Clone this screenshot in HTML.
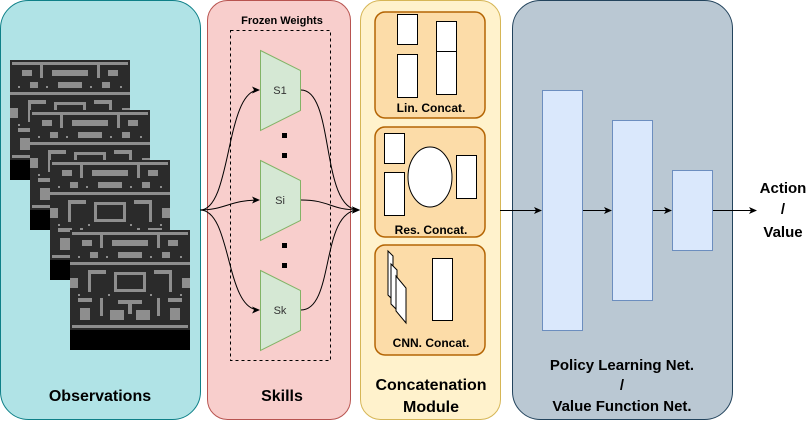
<!DOCTYPE html>
<html><head><style>
body{margin:0;background:#fff;width:812px;height:433px;overflow:hidden}
text{font-family:"Liberation Sans",Arial,sans-serif}
</style></head><body>
<svg width="812" height="433" viewBox="0 0 812 433" xmlns="http://www.w3.org/2000/svg">
<defs>
<marker id="a" markerWidth="8" markerHeight="8" refX="7" refY="4" orient="auto" markerUnits="userSpaceOnUse"><path d="M0,0.5 L8,4 L0,7.5 L2,4z" fill="#000"/></marker>
<g id="fr">
<rect width="120" height="120" fill="#000"/>
<rect width="120" height="100" fill="#2b2b2b"/>
<g fill="#8e8e8e">
<rect x="2" y="2" width="116" height="3"/><rect x="2" y="95" width="116" height="3"/>
<rect x="12" y="10" width="10" height="6"/><rect x="42" y="10" width="36" height="6"/><rect x="98" y="10" width="10" height="6"/>
<rect x="30" y="2" width="3" height="16"/><rect x="87" y="2" width="3" height="16"/>
<rect x="20" y="22" width="8" height="6"/><rect x="48" y="22" width="24" height="6"/><rect x="92" y="22" width="8" height="6"/>
<rect x="0" y="32" width="120" height="3"/>
<rect x="18" y="40" width="3" height="22"/><rect x="18" y="40" width="18" height="4"/><rect x="99" y="40" width="3" height="22"/><rect x="84" y="40" width="18" height="4"/>
<rect x="44" y="42" width="32" height="3"/><rect x="44" y="42" width="3" height="20"/><rect x="73" y="42" width="3" height="20"/><rect x="44" y="59" width="32" height="3"/>
<rect x="0" y="48" width="8" height="10"/><rect x="112" y="48" width="8" height="10"/>
<rect x="8" y="68" width="14" height="4"/><rect x="98" y="68" width="14" height="4"/>
<rect x="30" y="68" width="3" height="18"/><rect x="87" y="68" width="3" height="18"/>
<rect x="48" y="70" width="24" height="4"/><rect x="58" y="70" width="4" height="14"/>
<rect x="10" y="78" width="10" height="12"/><rect x="40" y="80" width="14" height="10"/><rect x="66" y="80" width="14" height="10"/><rect x="100" y="78" width="10" height="12"/>
</g>
<g fill="#8e8e8e">
<rect x="8" y="26" width="2" height="2"/><rect x="36" y="26" width="2" height="2"/><rect x="80" y="26" width="2" height="2"/><rect x="110" y="26" width="2" height="2"/>
<rect x="8" y="64" width="2" height="2"/><rect x="38" y="64" width="2" height="2"/><rect x="80" y="64" width="2" height="2"/><rect x="110" y="64" width="2" height="2"/>
</g>
</g>
</defs>
<rect x="0.5" y="0.5" width="200" height="419" rx="28" fill="#b0e3e6" stroke="#0e8088"/>
<rect x="207.5" y="0.5" width="143" height="419" rx="20" fill="#f8cecc" stroke="#b85450"/>
<rect x="360.5" y="0.5" width="140" height="419" rx="20" fill="#fff2cc" stroke="#d6b656"/>
<rect x="512.5" y="0.5" width="220" height="419" rx="28" fill="#bac8d3" stroke="#23445d"/>
<use href="#fr" x="10" y="60"/><use href="#fr" x="30" y="110"/><use href="#fr" x="50" y="160"/><use href="#fr" x="70" y="230"/>
<text x="100" y="401" font-size="16" font-weight="bold" text-anchor="middle">Observations</text>
<text x="282" y="24" font-size="11" font-weight="bold" text-anchor="middle">Frozen Weights</text>
<rect x="230.5" y="30.5" width="100" height="330" fill="none" stroke="#000" stroke-dasharray="3,3"/>
<g fill="#d5e8d4" stroke="#82b366">
<path d="M260.5,50.5 L300.5,70.5 L300.5,110.5 L260.5,130.5z"/>
<path d="M260.5,160.5 L300.5,180.5 L300.5,220.5 L260.5,240.5z"/>
<path d="M260.5,270.5 L300.5,290.5 L300.5,330.5 L260.5,350.5z"/>
</g>
<g font-size="11" fill="#333" text-anchor="middle"><text x="280" y="94">S1</text><text x="280" y="204">Si</text><text x="280" y="314">Sk</text></g>
<g fill="#000"><rect x="282" y="133" width="5" height="5"/><rect x="282" y="153" width="5" height="5"/><rect x="282" y="243" width="5" height="5"/><rect x="282" y="263" width="5" height="5"/></g>
<g fill="none" stroke="#000" stroke-width="1">
<path d="M200,210 C232,210 225,90 259,90" marker-end="url(#a)"/>
<path d="M200,210 C225,210 230,200 259,200" marker-end="url(#a)"/>
<path d="M200,210 C232,210 225,310 259,310" marker-end="url(#a)"/>
<path d="M301,90 C335,90 320,210 359,210" marker-end="url(#a)"/>
<path d="M301,200 C330,200 330,210 359,210" marker-end="url(#a)"/>
<path d="M301,310 C335,310 320,210 359,210" marker-end="url(#a)"/>
</g>
<text x="282" y="401" font-size="16" font-weight="bold" text-anchor="middle">Skills</text>
<g fill="#fcdca8" stroke="#b46504" stroke-width="1.5">
<rect x="375" y="12" width="110" height="106" rx="10"/>
<rect x="375" y="127" width="110" height="110" rx="10"/>
<rect x="375" y="245" width="110" height="110" rx="10"/>
</g>
<g fill="#fff" stroke="#000">
<rect x="397.5" y="14.5" width="20" height="30"/><rect x="397.5" y="54.5" width="20" height="43"/>
<rect x="436.5" y="21.5" width="20" height="30"/><rect x="436.5" y="51.5" width="20" height="43"/>
<rect x="384.5" y="133.5" width="20" height="30"/><rect x="384.5" y="172.5" width="20" height="43"/>
<ellipse cx="430" cy="177" rx="22" ry="30"/><rect x="456.5" y="155.5" width="20" height="43"/>
<rect x="432.5" y="258.5" width="20" height="62"/>
<path d="M388,251 L393,256 L393,300 L388,295z"/><path d="M391,264 L397,270 L397,310 L391,304z"/><path d="M396,276 L406,288 L406,323 L396,311z"/>
</g>
<g font-size="12" font-weight="bold" text-anchor="middle"><text x="431" y="112">Lin. Concat.</text><text x="431" y="234">Res. Concat.</text><text x="431" y="347">CNN. Concat.</text></g>
<text x="431" y="390" font-size="16" font-weight="bold" text-anchor="middle">Concatenation</text>
<text x="431" y="412" font-size="16" font-weight="bold" text-anchor="middle">Module</text>
<g fill="#dae8fc" stroke="#6c8ebf"><rect x="542.5" y="90.5" width="40" height="240"/><rect x="612.5" y="120.5" width="40" height="180"/><rect x="672.5" y="170.5" width="40" height="80"/></g>
<g stroke="#000" fill="none">
<path d="M500,210.5 H541" marker-end="url(#a)"/><path d="M583,210.5 H611" marker-end="url(#a)"/>
<path d="M653,210.5 H671" marker-end="url(#a)"/><path d="M713,210.5 H756" marker-end="url(#a)"/>
</g>
<g font-size="15" font-weight="bold" text-anchor="middle"><text x="783" y="193">Action</text><text x="783" y="214">/</text><text x="783" y="237">Value</text>
<text x="622" y="370">Policy Learning Net.</text><text x="622" y="390">/</text><text x="622" y="411">Value Function Net.</text></g>
</svg>
</body></html>
